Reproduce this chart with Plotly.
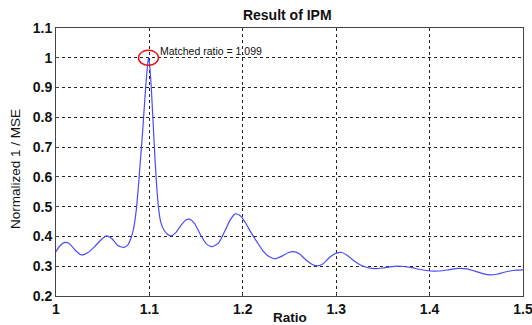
import plotly.graph_objects as go

ratio = [1.000, 1.004, 1.0096, 1.014, 1.020, 1.027, 1.034, 1.042, 1.048, 1.054, 1.060, 1.066,
         1.0725, 1.077, 1.080, 1.083, 1.086, 1.088, 1.090, 1.092, 1.094, 1.096, 1.098, 1.099,
         1.100, 1.102, 1.104, 1.106, 1.108, 1.110, 1.112, 1.115, 1.119, 1.123, 1.128, 1.134,
         1.139, 1.143, 1.148, 1.154, 1.161, 1.167, 1.174, 1.181, 1.187, 1.192, 1.197, 1.203,
         1.209, 1.2155, 1.222, 1.228, 1.2346, 1.242, 1.249, 1.254, 1.260, 1.268, 1.275, 1.280,
         1.286, 1.293, 1.300, 1.306, 1.312, 1.319, 1.326, 1.334, 1.342, 1.350, 1.358, 1.365,
         1.372, 1.380, 1.390, 1.4007, 1.410, 1.420, 1.431, 1.440, 1.450, 1.458, 1.465, 1.472,
         1.479, 1.486, 1.493, 1.500]
inv_mse = [0.349, 0.368, 0.380, 0.376, 0.356, 0.338, 0.345, 0.368, 0.388, 0.402, 0.392, 0.370,
           0.363, 0.372, 0.392, 0.425, 0.49, 0.56, 0.64, 0.72, 0.81, 0.90, 0.975, 1.000,
           0.985, 0.90, 0.78, 0.66, 0.56, 0.49, 0.45, 0.425, 0.408, 0.402, 0.412, 0.438,
           0.455, 0.458, 0.445, 0.410, 0.375, 0.366, 0.378, 0.420, 0.458, 0.476, 0.470, 0.445,
           0.412, 0.380, 0.350, 0.333, 0.325, 0.334, 0.346, 0.349, 0.343, 0.320, 0.305, 0.301,
           0.308, 0.330, 0.344, 0.346, 0.336, 0.318, 0.304, 0.295, 0.292, 0.294, 0.298, 0.300,
           0.299, 0.296, 0.289, 0.284, 0.284, 0.288, 0.293, 0.291, 0.282, 0.274, 0.271, 0.273,
           0.279, 0.284, 0.287, 0.288]

x_ticks = [1, 1.1, 1.2, 1.3, 1.4, 1.5]
x_labels = ["1", "1.1", "1.2", "1.3", "1.4", "1.5"]
y_ticks = [0.2, 0.3, 0.4, 0.5, 0.6, 0.7, 0.8, 0.9, 1.0, 1.1]
y_labels = ["0.2", "0.3", "0.4", "0.5", "0.6", "0.7", "0.8", "0.9", "1", "1.1"]

imax = max(range(len(inv_mse)), key=lambda i: inv_mse[i])
peak_x, peak_y = ratio[imax], inv_mse[imax]

FONT = "Arial, Liberation Sans, Helvetica, sans-serif"

fig = go.Figure()
fig.add_trace(go.Scatter(x=ratio, y=inv_mse, mode="lines",
                         line=dict(color="#4a4aff", width=1.2, shape="spline", smoothing=0.6),
                         showlegend=False))

axis_common = dict(showgrid=True, gridcolor="#222222", gridwidth=1, griddash="dot",
                   showline=True, linecolor="#444444", linewidth=1, mirror=True,
                   zeroline=False, ticks="inside", ticklen=3, tickcolor="#444444",
                   automargin=False, ticklabeloverflow="allow",
                   tickfont=dict(family=FONT, size=14, color="#111111"))

fig.update_xaxes(range=[1, 1.5], tickvals=x_ticks, ticktext=[f"<b>{t}</b>" for t in x_labels],
                 **axis_common)
fig.update_yaxes(range=[0.2, 1.1], tickvals=y_ticks, ticktext=[f"<b>{t}</b>" for t in y_labels],
                 **axis_common)

# axis titles
fig.add_annotation(xref="paper", yref="paper", x=0.5, y=0, yshift=-21, xanchor="center",
                   yanchor="middle", showarrow=False, text="<b>Ratio</b>",
                   font=dict(family=FONT, size=13.5, color="#111"))
fig.add_annotation(xref="paper", yref="paper", x=0, y=0.5, xshift=-41, yshift=-7, xanchor="center",
                   yanchor="middle", showarrow=False, textangle=-90, text="Normalized 1 / MSE",
                   font=dict(family=FONT, size=13.5, color="#111"))

fig.add_shape(type="circle", xref="x", yref="y", xsizemode="pixel", ysizemode="pixel",
              xanchor=peak_x, yanchor=peak_y, x0=-10, x1=10, y0=-7.5, y1=7.5,
              line=dict(color="#ee1111", width=1.5))
fig.add_annotation(x=peak_x, y=peak_y, xref="x", yref="y", text=f"Matched ratio = {peak_x:.3f}",
                   showarrow=False, xanchor="left", yanchor="middle", xshift=10, yshift=7,
                   font=dict(family=FONT, size=10.5, color="#111"))

fig.update_layout(
    width=532, height=325,
    margin=dict(l=56, r=9, t=28, b=29),
    paper_bgcolor="white", plot_bgcolor="white",
    title=dict(text="<b>Result of IPM</b>", x=0.54, xanchor="center", y=0.955, yanchor="middle",
               font=dict(family=FONT, size=14, color="#111")),
)

fig.write_html("out.html")
